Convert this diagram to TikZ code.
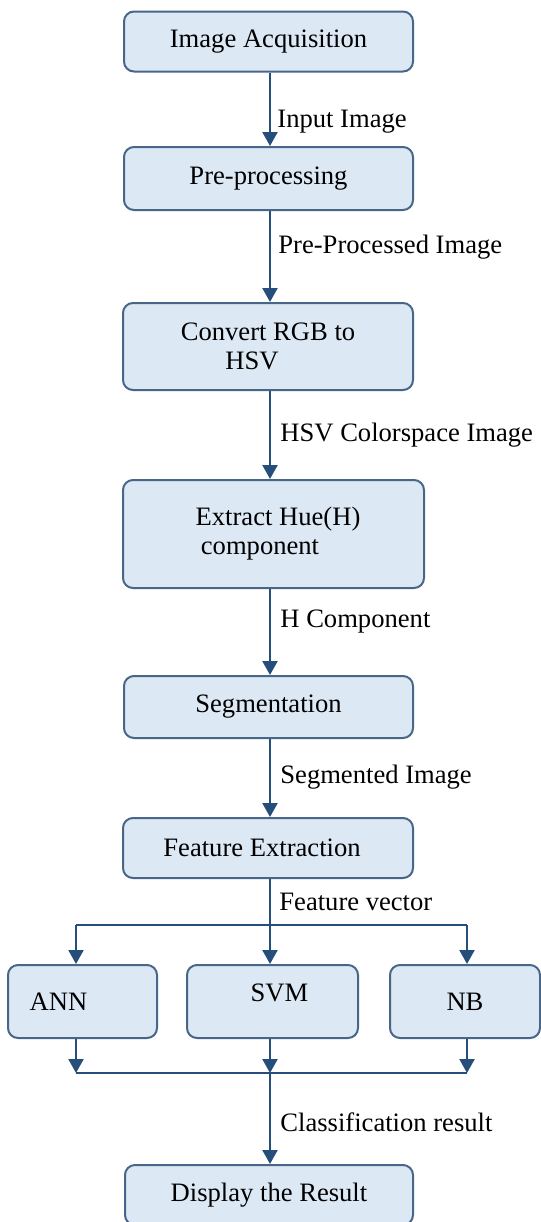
\documentclass[tikz,border=0pt]{standalone}
\usepackage{fontspec}
\setmainfont{Liberation Serif}
\usepackage{xcolor}
\usepackage{tikz}
\usetikzlibrary{arrows.meta,calc}
\definecolor{boxfill}{RGB}{221,232,245}
\definecolor{boxline}{RGB}{72,102,136}
\definecolor{arrowcol}{RGB}{38,78,122}
\tikzset{
  blk/.style ={draw=boxline,fill=boxfill,line width=1pt,rounded corners=5pt,align=center,inner sep=0pt,font=\fontsize{13.3}{14.5}\selectfont},
  lbl/.style ={anchor=west,inner sep=0pt,font=\fontsize{13.3}{14.5}\selectfont},
  ln/.style  ={draw=arrowcol,line width=1.1pt},
  ar/.style  ={ln,-{Triangle[length=7pt,width=7.5pt]}},
}

\begin{document}
\begin{tikzpicture}[x=0.5pt,y=-0.5pt]
\useasboundingbox (0,0) rectangle (541,1222);
% main chain
\node[blk,minimum width=144.5pt,minimum height=30pt] (acq) at (268.5,41.5) {Image Acquisition};
\node[blk,minimum width=144.5pt,minimum height=31.5pt] (pre) at (268.5,178.5) {Pre-processing};
\node[blk,minimum width=145pt,minimum height=43.5pt] (rgb) at (268,346.5) {Convert RGB to\\ HSV\hspace*{16pt}};
\node[blk,minimum width=150.5pt,minimum height=54pt] (hue) at (273.5,534) {\hspace*{4.5pt}Extract Hue(H)\\ component\hspace*{13.5pt}};
\node[blk,minimum width=144.5pt,minimum height=31pt] (seg) at (268.5,707) {Segmentation};
\node[blk,minimum width=145pt,minimum height=30pt] (feat) at (268,848) {Feature Extraction\hspace*{6pt}};
% classifiers
\node[blk,minimum width=74.5pt,minimum height=36.5pt] (ann) at (82.5,1001.5) {ANN\hspace*{24pt}};
\node[blk,minimum width=85.5pt,minimum height=36.5pt] (svm) at (272.5,1001.5) {\hspace*{7pt}SVM\\[-6pt]\mbox{}};
\node[blk,minimum width=75pt,minimum height=36.5pt] (nb) at (465,1001.5) {NB};
\node[blk,minimum width=144pt,minimum height=30pt] (disp) at (269,1195) {Display the Result};
% edge labels
\node[lbl] (l1) at (277,122) {Input Image};
\node[lbl] (l2) at (278,247) {Pre-Processed Image};
\node[lbl] (l3) at (280,435) {HSV Colorspace Image};
\node[lbl] (l4) at (280,622) {H Component};
\node[lbl] (l5) at (280,777) {Segmented Image};
\node[lbl] (l6) at (279,902) {Feature vector};
\node[lbl] (l7) at (280,1122) {Classification result};
% split and join points
\coordinate (fl) at (76,925);  \coordinate (fm) at (270,925);  \coordinate (fr) at (467,925);
\coordinate (jl) at (76,1073); \coordinate (jm) at (270,1073); \coordinate (jr) at (467,1073);
\draw[ar] (acq.south -| fm) -- (pre.north -| fm);
\draw[ar] (pre.south -| fm) -- (rgb.north -| fm);
\draw[ar] (rgb.south -| fm) -- (hue.north -| fm);
\draw[ar] (hue.south -| fm) -- (seg.north -| fm);
\draw[ar] (seg.south -| fm) -- (feat.north -| fm);
\draw[ln] (feat.south -| fm) -- (fm);
\draw[ln] (fl) -- (fr);
\draw[ar] (fl) -- (fl |- ann.north);
\draw[ar] (fm) -- (fm |- svm.north);
\draw[ar] (fr) -- (fr |- nb.north);
\draw[ar] (jl |- ann.south) -- (jl);
\draw[ar] (jm |- svm.south) -- (jm);
\draw[ar] (jr |- nb.south) -- (jr);
\draw[ln] (jl) -- (jr);
\draw[ar] (jm) -- (disp.north -| jm);
\end{tikzpicture}
\end{document}
